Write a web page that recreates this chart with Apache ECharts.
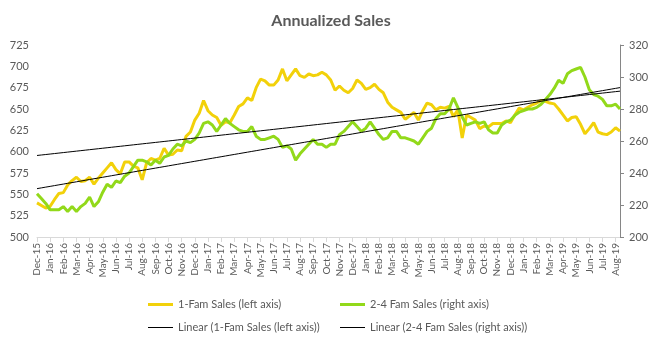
<!DOCTYPE html>
<html><head><meta charset="utf-8">
<script src="https://cdn.jsdelivr.net/npm/echarts@6/dist/echarts.min.js"></script>
<style>html,body{margin:0;padding:0;background:#fff}#c{width:662px;height:342px}</style>
</head><body><div id="c"></div><script>
const months = ['Dec-15','Jan-16','Feb-16','Mar-16','Apr-16','May-16','Jun-16','Jul-16','Aug-16','Sep-16','Oct-16','Nov-16','Dec-16',
'Jan-17','Feb-17','Mar-17','Apr-17','May-17','Jun-17','Jul-17','Aug-17','Sep-17','Oct-17','Nov-17','Dec-17',
'Jan-18','Feb-18','Mar-18','Apr-18','May-18','Jun-18','Jul-18','Aug-18','Sep-18','Oct-18','Nov-18','Dec-18',
'Jan-19','Feb-19','Mar-19','Apr-19','May-19','Jun-19','Jul-19','Aug-19'];
const pointsPerMonth = 3;
const oneFamSales = [540,537,534,536,544,551,552,561,566,570,565,566,570,562,569,575,581,587,579,574,
588,588,583,581,567,587,592,590,592,604,596,597,602,601,618,623,637,645,660,648,
643,640,631,635,634,643,653,656,663,660,675,685,683,678,678,684,697,683,690,697,
689,687,691,689,690,693,690,684,672,677,672,669,674,684,680,673,675,679,673,669,
658,652,649,646,638,642,646,637,648,657,655,649,652,651,653,641,649,616,643,640,
637,627,630,629,633,633,633,636,634,643,651,649,652,655,657,660,659,657,656,650,
643,636,640,641,632,621,627,634,623,621,620,623,628,624];
const twoFourFamSales = [227,224,221,217,217,217,219,216,219,216,219,221,225,219,222,228,233,231,235,234,
238,240,244,248,248,247,245,248,246,250,251,255,258,257,260,259,261,265,271,272,
270,266,270,274,271,269,267,266,266,269,263,261,261,262,263,261,256,257,255,248,
252,255,258,261,258,258,256,258,258,264,266,269,272,269,266,268,272,268,264,261,
262,266,266,262,262,261,260,258,262,266,268,274,277,277,280,287,281,275,270,271,
272,271,272,267,265,265,270,272,273,276,278,279,280,280,281,283,286,289,293,298,
296,302,304,305,306,300,292,289,288,286,282,282,283,280];
const leftAxisRange = [500, 725, 25];
const rightAxisRange = [200, 320, 20];
const names = ['1-Fam Sales (left axis)','2-4 Fam Sales (right axis)','Linear (1-Fam Sales (left axis))','Linear (2-4 Fam Sales (right axis))'];

const categories = oneFamSales.map((_, i) => months[Math.floor(i / pointsPerMonth)] + (i % pointsPerMonth ? '#' + (i % pointsPerMonth) : ''));
function linFit(arr) {
  const n = arr.length; let sx = 0, sy = 0, sxx = 0, sxy = 0;
  arr.forEach((y, x) => { sx += x; sy += y; sxx += x * x; sxy += x * y; });
  const b = (n * sxy - sx * sy) / (n * sxx - sx * sx);
  const a = (sy - b * sx) / n;
  return arr.map((_, x) => +(a + b * x).toFixed(3));
}
const FONT = 'Lato, "Open Sans", sans-serif';
const TXT = '#595959';
const YEL = '#F2D10A', GRN = '#92D91A';
const chart = echarts.init(document.getElementById('c'), null, {renderer: 'canvas'});
const monthTick = (idx) => idx % pointsPerMonth === 0;
function leg(name, left, top, h, color) {
  return {left: left, top: top, itemWidth: 25, itemHeight: h, icon: 'rect', selectedMode: false,
    data: [{name: name, icon: 'rect', itemStyle: {color: color, borderWidth: 0}}],
    textStyle: {fontFamily: FONT, fontSize: 11, color: TXT}};
}
chart.setOption({
  animation: false,
  backgroundColor: '#fff',
  title: {text: 'Annualized Sales', left: 'center', top: 8,
    textStyle: {fontFamily: FONT, fontSize: 16, fontWeight: 'bold', color: TXT}},
  grid: {left: 37, right: 42, top: 45, bottom: 105, containLabel: false},
  legend: [
    leg(names[0], 143, 294, 3, YEL),
    leg(names[1], 335, 294, 3, GRN),
    leg(names[2], 143, 317, 1, '#000'),
    leg(names[3], 335, 317, 1, '#000')
  ],
  xAxis: {
    type: 'category', data: categories, boundaryGap: false,
    axisLine: {lineStyle: {color: '#d9d9d9'}},
    axisTick: {interval: monthTick, length: 5, lineStyle: {color: '#d9d9d9'}},
    axisLabel: {interval: monthTick, rotate: 90, margin: 6, fontFamily: FONT, fontSize: 10, color: TXT,
      formatter: v => v.split('#')[0]},
    splitLine: {show: false}
  },
  yAxis: [
    {type: 'value', min: leftAxisRange[0], max: leftAxisRange[1], interval: leftAxisRange[2],
     axisLine: {show: false}, axisTick: {show: false}, splitLine: {show: false},
     axisLabel: {margin: 8, fontFamily: FONT, fontSize: 11, color: TXT}},
    {type: 'value', position: 'right', min: rightAxisRange[0], max: rightAxisRange[1], interval: rightAxisRange[2],
     axisLine: {show: true, lineStyle: {color: '#868686'}}, axisTick: {show: true, length: 4, lineStyle: {color: '#868686'}},
     splitLine: {show: false},
     axisLabel: {margin: 9, fontFamily: FONT, fontSize: 11, color: TXT}}
  ],
  series: [
    {name: names[0], type: 'line', yAxisIndex: 0, data: oneFamSales, symbol: 'none',
     lineStyle: {color: YEL, width: 3}, itemStyle: {color: YEL}, z: 2},
    {name: names[1], type: 'line', yAxisIndex: 1, data: twoFourFamSales, symbol: 'none',
     lineStyle: {color: GRN, width: 3}, itemStyle: {color: GRN}, z: 2},
    {name: names[2], type: 'line', yAxisIndex: 0, data: linFit(oneFamSales), symbol: 'none',
     lineStyle: {color: '#000', width: 1}, itemStyle: {color: '#000'}, z: 3},
    {name: names[3], type: 'line', yAxisIndex: 1, data: linFit(twoFourFamSales), symbol: 'none',
     lineStyle: {color: '#000', width: 1}, itemStyle: {color: '#000'}, z: 3}
  ]
});
</script></body></html>
